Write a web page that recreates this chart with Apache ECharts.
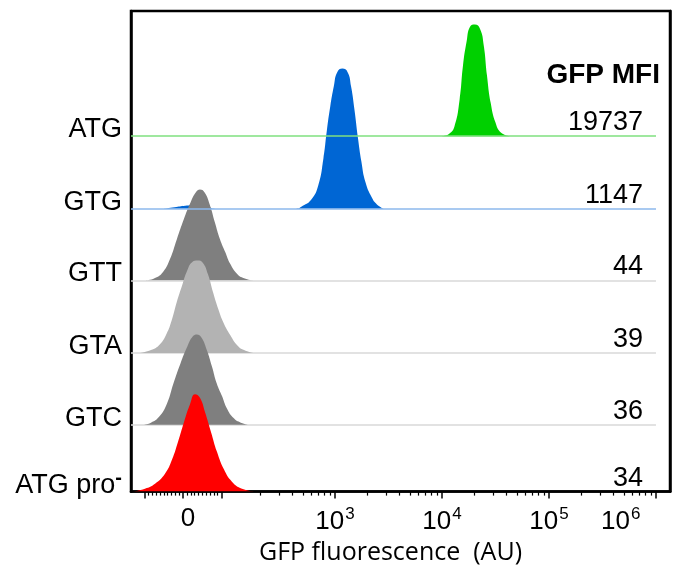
<!DOCTYPE html>
<html>
<head>
<meta charset="utf-8">
<script src="https://cdn.jsdelivr.net/npm/echarts@6/dist/echarts.min.js"></script>
<style>
  html, body { margin: 0; padding: 0; background: #fff; }
  #chart { width: 679px; height: 570px; }
</style>
</head>
<body>
<div id="chart"></div>
<script>
// x = position on the biexponential display axis (3 = 10^3, 4 = 10^4 ...), y = relative count
const rowNames = ['ATG', 'GTG', 'GTT', 'GTA', 'GTC', 'ATG pro-']
const mfiValues = [19737, 1147, 44, 39, 36, 34]
const rowOffsets = [500, 398, 297, 195, 94, 0]

const histATG = [[4.00, 0], [4.065, 3], [4.117, 14], [4.165, 52], [4.196, 99], [4.23, 133], [4.262, 154], [4.308, 157],
  [4.355, 151], [4.39, 128], [4.42, 86], [4.455, 47], [4.50, 19], [4.55, 5], [4.63, 0]]
const histGTG = [[1.40, 0], [1.50, 2], [1.60, 4], [1.70, 5], [1.80, 3], [1.88, 0], [2.634, 0], [2.699, 4], [2.779, 13],
  [2.844, 33], [2.892, 71], [2.924, 110], [2.956, 144], [2.989, 172], [3.021, 192], [3.069, 197], [3.118, 192],
  [3.150, 172], [3.182, 139], [3.214, 100], [3.247, 66], [3.285, 37], [3.343, 16], [3.392, 6], [3.456, 0]]
const histGTT = [[1.233, 0], [1.313, 3], [1.393, 12], [1.458, 30], [1.522, 58], [1.587, 86], [1.651, 110], [1.700, 124],
  [1.738, 128], [1.780, 124], [1.829, 107], [1.877, 82], [1.925, 58], [1.974, 40], [2.022, 23], [2.086, 9], [2.150, 3], [2.232, 0]]
const histGTA = [[1.184, 0], [1.280, 4], [1.362, 12], [1.426, 27], [1.474, 46], [1.522, 72], [1.571, 95], [1.619, 116],
  [1.667, 128], [1.716, 130], [1.764, 127], [1.812, 111], [1.861, 85], [1.909, 62], [1.957, 43], [2.022, 25], [2.086, 11], [2.150, 4], [2.232, 0]]
const histGTC = [[1.20, 0], [1.28, 3], [1.36, 12], [1.43, 30], [1.49, 58], [1.555, 86], [1.62, 110], [1.67, 124],
  [1.71, 127], [1.75, 123], [1.80, 106], [1.85, 82], [1.895, 58], [1.945, 40], [1.99, 23], [2.055, 9], [2.12, 3], [2.20, 0]]
const histPro = [[1.112, 0], [1.224, 4], [1.318, 11], [1.411, 25], [1.477, 45], [1.533, 70], [1.589, 98], [1.645, 123],
  [1.692, 137], [1.738, 132], [1.785, 112], [1.841, 84], [1.897, 56], [1.963, 31], [2.037, 14], [2.131, 4], [2.252, 0]]

// axis: linear part around 0, log part above 10^2
const ZERO_POS = 1.58
const LIN_STEP = 0.0036 // display units per AU near zero
const majorTickValues = [-100, 0, 100, 1e3, 1e4, 1e5, 1e6]
const tickLabels = ['0', '10^3', '10^4', '10^5', '10^6']
const tickLabelPos = [1.626, 3, 4, 5, 5.67]

const fillColors = ['#00d000', '#0066d4', '#7f7f7f', '#b3b3b3', '#7f7f7f', '#ff0000']
const baseColors = ['#7fe07f', '#8cb8ec', '#d9d9d9', '#d9d9d9', '#d9d9d9', null]

function toDisp(v) {
  return Math.abs(v) <= 100 ? ZERO_POS + v * LIN_STEP : Math.log10(v)
}

const majorTickPos = majorTickValues.map(toDisp)
const minorTickPos = []
for (let v = -90; v <= 90; v += 10) {
  if (v !== 0) minorTickPos.push(toDisp(v))
}
for (let e = 2; e < 6; e++) {
  for (let m = 2; m <= 9; m++) minorTickPos.push(Math.log10(m * Math.pow(10, e)))
}

const xMin = 1.0935
const xMax = 6.131
const yMax = 676
const hists = [histATG, histGTG, histGTT, histGTA, histGTC, histPro]

const chart = echarts.init(document.getElementById('chart'))
const FONT = 'Liberation Sans'

chart.setOption({
  animation: false,
  title: {
    text: 'GFP MFI',
    right: 19,
    top: 61,
    padding: 0,
    textStyle: { fontFamily: FONT, fontWeight: 'bold', fontSize: 28, color: '#000' }
  },
  grid: {
    left: 131, right: 9, top: 11, bottom: 76,
    show: true, borderColor: '#000', borderWidth: 2.5
  },
  xAxis: [{
    type: 'value', min: xMin, max: xMax,
    axisLine: { show: true, onZero: false, lineStyle: { color: '#000', width: 2.5 } },
    axisTick: { show: true, customValues: majorTickPos, length: 7, lineStyle: { color: '#000', width: 1.5 } },
    splitLine: { show: false },
    axisLabel: {
      customValues: tickLabelPos,
      margin: 14,
      formatter: function (v) {
        const i = tickLabelPos.findIndex(p => Math.abs(p - v) < 1e-6)
        const t = tickLabels[i] || ''
        if (t.indexOf('^') < 0) return '{b|' + t + '}'
        const parts = t.split('^')
        return '{b|' + parts[0] + '}{s|' + parts[1] + '}'
      },
      rich: {
        b: { fontFamily: FONT, fontSize: 26, color: '#000' },
        s: { fontFamily: FONT, fontSize: 17, color: '#000', padding: [0, 0, 16, 1] }
      }
    },
    name: 'GFP fluorescence  (AU)',
    nameLocation: 'middle',
    nameGap: 45,
    nameTextStyle: { fontFamily: 'Open Sans', fontSize: 25, color: '#000', padding: [0, 20, 0, 0] }
  }, {
    type: 'value', min: xMin, max: xMax, position: 'bottom', offset: 0,
    axisLine: { show: false },
    axisTick: { show: true, customValues: minorTickPos, length: 4, lineStyle: { color: '#000', width: 1.2 } },
    axisLabel: { show: false },
    splitLine: { show: false }
  }],
  yAxis: [{
    type: 'value', min: 0, max: yMax,
    axisLine: { show: true, onZero: false, lineStyle: { color: '#000', width: 2.5 } },
    axisTick: { show: false },
    splitLine: { show: false },
    axisLabel: {
      customValues: rowOffsets,
      margin: 9,
      verticalAlign: 'bottom',
      formatter: function (v) {
        const name = rowNames[rowOffsets.indexOf(v)] || ''
        if (name.endsWith('-')) return '{n|' + name.slice(0, -1) + '}{sup|-}'
        return '{n|' + name + '}'
      },
      rich: {
        n: { fontFamily: FONT, fontSize: 27, lineHeight: 13, color: '#000' },
        sup: { fontFamily: FONT, fontSize: 20, fontWeight: 'bold', lineHeight: 13, color: '#000', padding: [0, 0, 14, 0] }
      }
    }
  }, {
    type: 'value', min: 0, max: yMax, position: 'right',
    axisLine: { show: true, onZero: false, lineStyle: { color: '#000', width: 2.5 } },
    axisTick: { show: false },
    splitLine: { show: false },
    axisLabel: {
      inside: true,
      customValues: rowOffsets,
      margin: 27,
      verticalAlign: 'bottom',
      fontFamily: FONT, fontSize: 27, lineHeight: 27, color: '#000',
      formatter: function (v) {
        return String(mfiValues[rowOffsets.indexOf(v)])
      }
    }
  }],
  series: hists.map(function (h, i) {
    const off = rowOffsets[i]
    const s = {
      type: 'line',
      name: rowNames[i],
      data: h.map(p => [p[0], p[1] + off]),
      smooth: 0.5,
      symbol: 'none',
      silent: true,
      lineStyle: { width: 0 },
      areaStyle: { color: fillColors[i], opacity: 1, origin: off },
      z: 2 + i
    }
    if (baseColors[i]) {
      s.markLine = {
        silent: true, symbol: 'none', label: { show: false },
        lineStyle: { color: baseColors[i], width: 1.5, type: 'solid' },
        data: [[{ coord: [xMin, off] }, { coord: [6.0, off] }]]
      }
    }
    return s
  })
})
</script>
</body>
</html>
